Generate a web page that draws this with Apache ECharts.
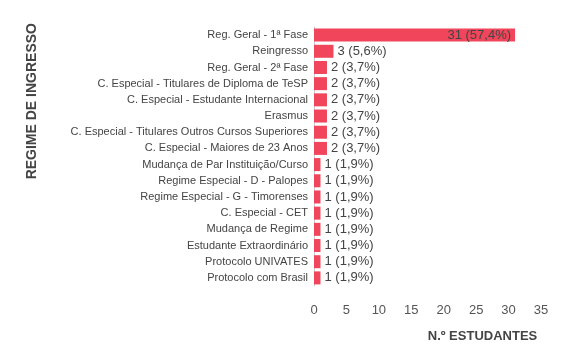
<!DOCTYPE html>
<html><head><meta charset="utf-8">
<script src="https://cdn.jsdelivr.net/npm/echarts@6/dist/echarts.min.js"></script>
<style>html,body{margin:0;padding:0;background:#fff}#c{width:570px;height:360px}</style>
</head><body><div id="c"></div>
<script>
const categories = [
  "Reg. Geral - 1ª Fase",
  "Reingresso",
  "Reg. Geral - 2ª Fase",
  "C. Especial - Titulares de Diploma de TeSP",
  "C. Especial - Estudante Internacional",
  "Erasmus",
  "C. Especial - Titulares Outros Cursos Superiores",
  "C. Especial - Maiores de 23 Anos",
  "Mudança de Par Instituição/Curso",
  "Regime Especial - D - Palopes",
  "Regime Especial - G - Timorenses",
  "C. Especial - CET",
  "Mudança de Regime",
  "Estudante Extraordinário",
  "Protocolo UNIVATES",
  "Protocolo com Brasil"
];
const values = [31, 3, 2, 2, 2, 2, 2, 2, 1, 1, 1, 1, 1, 1, 1, 1];
const percents = ["57,4", "5,6", "3,7", "3,7", "3,7", "3,7", "3,7", "3,7", "1,9", "1,9", "1,9", "1,9", "1,9", "1,9", "1,9", "1,9"];
const xTicks = [0, 5, 10, 15, 20, 25, 30, 35];
const xAxisName = "N.º ESTUDANTES";
const yAxisName = "REGIME DE INGRESSO";

const chart = echarts.init(document.getElementById('c'));
const font = "'Liberation Sans', Arial, sans-serif";
chart.setOption({
  animation: false,
  grid: { left: 314, top: 27, width: 227, height: 259 },
  xAxis: {
    type: 'value', min: xTicks[0], max: xTicks[xTicks.length - 1], interval: 5,
    axisLine: { show: false }, axisTick: { show: false }, splitLine: { show: false },
    axisLabel: { color: '#555', fontSize: 13, fontFamily: font, margin: 18 },
    name: xAxisName, nameLocation: 'middle', nameGap: 44,
    nameTextStyle: { color: '#444', fontSize: 13, fontWeight: 'bold', fontFamily: font, padding: [0, 0, 0, 110] }
  },
  yAxis: {
    type: 'category', inverse: true, data: categories,
    axisLine: { show: true, lineStyle: { color: '#ccc' } },
    axisTick: { show: false },
    axisLabel: { color: '#444', fontSize: 11, fontFamily: font, margin: 6 }
  },
  graphic: [{
    type: 'text', left: 25, top: 23, rotation: Math.PI / 2,
    style: { text: yAxisName, fill: '#444', font: "bold 14px " + font }
  }],
  series: [{
    type: 'bar', barWidth: 13,
    data: values.map((v, i) => ({
      value: v,
      label: i === 0 ? { position: 'insideRight', distance: 4 } : { position: 'right', distance: 4 }
    })),
    itemStyle: { color: '#f0455a' },
    label: {
      show: true, color: '#444', fontSize: 13, fontFamily: font,
      formatter: p => p.value + ' (' + percents[p.dataIndex] + '%)'
    }
  }]
});
</script></body></html>
